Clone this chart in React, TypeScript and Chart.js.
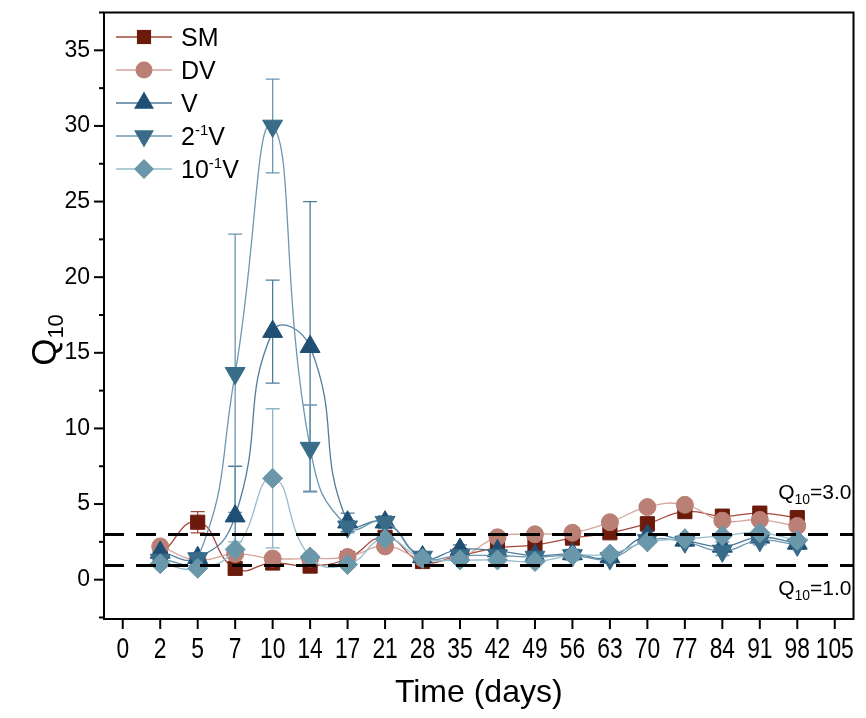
import React, { useEffect, useRef } from 'react';
import { Chart, registerables } from 'chart.js';

Chart.register(...registerables);

// ---------- data ----------
const dayLabels = ['0', '2', '5', '7', '10', '14', '17', '21', '28', '35', '42', '49', '56', '63', '70', '77', '84', '91', '98', '105'];

const smValues = [null, 1.6, 3.8, 0.75, 1.1, 0.9, 1.4, 2.8, 1.2, 1.6, 2.1, 2.3, 2.75, 3.1, 3.7, 4.5, 4.2, 4.4, 4.1, null];
const smErrors = [null, 0.2, 0.7, 0.1, 0.1, 0.1, 0.2, 0.3, 0.1, 0.2, 0.3, 0.3, 0.3, 0.3, 0.3, 0.3, 0.3, 0.3, 0.3, null];

const dvValues = [null, 2.2, 1.3, 1.7, 1.4, 1.4, 1.5, 2.2, 1.4, 1.5, 2.8, 3.0, 3.1, 3.8, 4.8, 4.95, 3.9, 3.95, 3.55, null];
const dvErrors = [null, 0.2, 0.2, 0.2, 0.2, 0.2, 0.2, 0.2, 0.2, 0.2, 0.3, 0.3, 0.3, 0.3, 0.3, 0.3, 0.3, 0.3, 0.3, null];

const vValues = [null, 1.8, 1.45, 4.2, 16.4, 15.4, 3.8, 3.8, 1.5, 2.0, 1.9, 1.6, 1.7, 1.5, 2.9, 2.6, 2.2, 2.8, 2.4, null];
const vErrors = [null, 0.3, 0.3, 3.3, 3.4, 9.6, 0.6, 0.4, 0.3, 0.3, 0.3, 0.3, 0.3, 0.3, 0.3, 0.3, 0.3, 0.3, 0.3, null];

const halfVValues = [null, 1.3, 1.4, 13.65, 30.0, 8.7, 3.5, 3.8, 1.5, 1.6, 1.6, 1.5, 1.6, 1.4, 2.6, 2.5, 1.9, 2.6, 2.3, null];
const halfVErrors = [null, 0.3, 0.3, 9.2, 3.1, 2.85, 0.4, 0.4, 0.3, 0.3, 0.3, 0.3, 0.3, 0.3, 0.3, 0.3, 0.3, 0.3, 0.3, null];

const tenthVValues = [null, 1.05, 0.75, 2.0, 6.7, 1.5, 1.0, 2.7, 1.4, 1.3, 1.3, 1.2, 1.6, 1.7, 2.5, 2.7, 2.9, 3.1, 2.6, null];
const tenthVErrors = [null, 0.2, 0.2, 0.5, 4.6, 0.2, 0.2, 0.2, 0.2, 0.2, 0.2, 0.2, 0.2, 0.2, 0.2, 0.2, 0.2, 0.2, 0.2, null];

const yMin = -2.6;
const yMax = 37.5;
const refLines = [3, 1];

// ---------- styles ----------
const FONT = '"Liberation Sans", Arial, Helvetica, sans-serif';

type Series = {
  key: string;
  parts: { t: string; sup?: boolean }[];
  values: (number | null)[];
  errors: (number | null)[];
  marker: string;
  line: string;
  err: string;
  shape: 'square' | 'circle' | 'up' | 'down' | 'diamond';
  order: number;
};

const series: Series[] = [
  { key: 'SM', parts: [{ t: 'SM' }], values: smValues, errors: smErrors, marker: '#6B1A0C', line: '#A5493C', err: '#A5493C', shape: 'square', order: 5 },
  { key: 'DV', parts: [{ t: 'DV' }], values: dvValues, errors: dvErrors, marker: '#BA7F75', line: '#D6A59D', err: '#C99088', shape: 'circle', order: 4 },
  { key: 'V', parts: [{ t: 'V' }], values: vValues, errors: vErrors, marker: '#1F4F74', line: '#4F7D9C', err: '#4F7D9C', shape: 'up', order: 3 },
  { key: '2-1V', parts: [{ t: '2' }, { t: '-1', sup: true }, { t: 'V' }], values: halfVValues, errors: halfVErrors, marker: '#386C88', line: '#6B97B0', err: '#6B97B0', shape: 'down', order: 2 },
  { key: '10-1V', parts: [{ t: '10' }, { t: '-1', sup: true }, { t: 'V' }], values: tenthVValues, errors: tenthVErrors, marker: '#6A98AA', line: '#98BCCB', err: '#8FB3C3', shape: 'diamond', order: 1 },
];

const shapeStyle: Record<string, { style: string; radius: number; rotation: number }> = {
  square: { style: 'rect', radius: 10, rotation: 0 },
  circle: { style: 'circle', radius: 8.5, rotation: 0 },
  up: { style: 'triangle', radius: 11.5, rotation: 0 },
  down: { style: 'triangle', radius: 11.5, rotation: 180 },
  diamond: { style: 'rectRot', radius: 10, rotation: 0 },
};

function drawMarker(ctx: CanvasRenderingContext2D, shape: string, x: number, y: number, color: string) {
  const s = shapeStyle[shape];
  const r = s.radius;
  ctx.save();
  ctx.fillStyle = color;
  ctx.beginPath();
  if (shape === 'square') {
    const h = r * Math.SQRT1_2;
    ctx.rect(x - h, y - h, 2 * h, 2 * h);
  } else if (shape === 'circle') {
    ctx.arc(x, y, r, 0, Math.PI * 2);
  } else if (shape === 'up') {
    ctx.moveTo(x, y - r);
    ctx.lineTo(x + r * Math.cos(Math.PI / 6), y + r / 2);
    ctx.lineTo(x - r * Math.cos(Math.PI / 6), y + r / 2);
  } else if (shape === 'down') {
    ctx.moveTo(x, y + r);
    ctx.lineTo(x + r * Math.cos(Math.PI / 6), y - r / 2);
    ctx.lineTo(x - r * Math.cos(Math.PI / 6), y - r / 2);
  } else {
    ctx.moveTo(x, y - r);
    ctx.lineTo(x + r, y);
    ctx.lineTo(x, y + r);
    ctx.lineTo(x - r, y);
  }
  ctx.closePath();
  ctx.fill();
  ctx.restore();
}

type Part = { t: string; size: number; dy: number };

function richWidth(ctx: CanvasRenderingContext2D, parts: Part[]) {
  let w = 0;
  for (const p of parts) {
    ctx.font = `${p.size}px ${FONT}`;
    w += ctx.measureText(p.t).width;
  }
  return w;
}

function drawRich(ctx: CanvasRenderingContext2D, parts: Part[], x: number, y: number, align: 'left' | 'center' | 'right') {
  const w = richWidth(ctx, parts);
  let cx = align === 'left' ? x : align === 'center' ? x - w / 2 : x - w;
  ctx.textAlign = 'left';
  ctx.textBaseline = 'alphabetic';
  for (const p of parts) {
    ctx.font = `${p.size}px ${FONT}`;
    ctx.fillText(p.t, cx, y + p.dy);
    cx += ctx.measureText(p.t).width;
  }
}

const decorPlugin = {
  id: 'decor',
  beforeDatasetsDraw(chart: any) {
    const ctx: CanvasRenderingContext2D = chart.ctx;
    const yScale = chart.scales.y;
    chart.data.datasets.forEach((ds: any, i: number) => {
      const s = series[i];
      const meta = chart.getDatasetMeta(i);
      ctx.save();
      ctx.strokeStyle = s.err;
      ctx.lineWidth = 1.3;
      s.values.forEach((v, j) => {
        const e = s.errors[j];
        if (v == null || e == null) return;
        const pt = meta.data[j];
        if (!pt) return;
        const x = pt.x;
        const yt = yScale.getPixelForValue(v + e);
        const yb = yScale.getPixelForValue(v - e);
        ctx.beginPath();
        ctx.moveTo(x, yt);
        ctx.lineTo(x, yb);
        ctx.moveTo(x - 7, yt);
        ctx.lineTo(x + 7, yt);
        ctx.moveTo(x - 7, yb);
        ctx.lineTo(x + 7, yb);
        ctx.stroke();
      });
      ctx.restore();
    });
  },
  afterDatasetsDraw(chart: any) {
    const ctx: CanvasRenderingContext2D = chart.ctx;
    const { left, right } = chart.chartArea;
    const yScale = chart.scales.y;
    ctx.save();
    ctx.strokeStyle = '#000';
    ctx.lineWidth = 3;
    ctx.setLineDash([20, 12]);
    for (const r of refLines) {
      const y = Math.round(yScale.getPixelForValue(r)) + 0.5;
      ctx.beginPath();
      ctx.moveTo(left, y);
      ctx.lineTo(right, y);
      ctx.stroke();
    }
    ctx.restore();
  },
  afterDraw(chart: any) {
    const ctx: CanvasRenderingContext2D = chart.ctx;
    const { left, right, top, bottom } = chart.chartArea;
    const xScale = chart.scales.x;
    const yScale = chart.scales.y;
    ctx.save();
    ctx.fillStyle = '#000';
    ctx.strokeStyle = '#000';

    // frame
    ctx.lineWidth = 2;
    ctx.strokeRect(left, top, right - left, bottom - top);

    // y ticks (major + minor)
    ctx.lineWidth = 2;
    for (let k = -1; k <= 15; k++) {
      const v = k * 2.5;
      const y = yScale.getPixelForValue(v);
      const len = k % 2 === 0 ? 10 : 5;
      ctx.beginPath();
      ctx.moveTo(left - len, y);
      ctx.lineTo(left, y);
      ctx.stroke();
    }

    // x ticks and labels
    const labels: string[] = chart.data.labels;
    labels.forEach((lab, i) => {
      const x = xScale.getPixelForTick(i);
      ctx.beginPath();
      ctx.moveTo(x, bottom);
      ctx.lineTo(x, bottom + 10);
      ctx.stroke();
      ctx.save();
      ctx.translate(x, bottom + 31);
      ctx.scale(0.76, 1);
      ctx.font = `30px ${FONT}`;
      ctx.textAlign = 'center';
      ctx.textBaseline = 'middle';
      ctx.fillText(lab, 0, 0);
      ctx.restore();
    });

    // x title
    ctx.font = `32px ${FONT}`;
    ctx.textAlign = 'center';
    ctx.textBaseline = 'middle';
    ctx.fillText('Time (days)', (left + right) / 2, 693);

    // y title Q10
    ctx.save();
    ctx.translate(56, 340);
    ctx.rotate(-Math.PI / 2);
    drawRich(ctx, [
      { t: 'Q', size: 35, dy: 0 },
      { t: '10', size: 22, dy: 7 },
    ], 0, 0, 'center');
    ctx.restore();

    // reference annotations
    const y3 = yScale.getPixelForValue(3);
    const y1 = yScale.getPixelForValue(1);
    drawRich(ctx, [
      { t: 'Q', size: 21, dy: 0 },
      { t: '10', size: 14, dy: 5 },
      { t: '=3.0', size: 21, dy: 0 },
    ], right - 2, y3 - 35, 'right');
    drawRich(ctx, [
      { t: 'Q', size: 21, dy: 0 },
      { t: '10', size: 14, dy: 5 },
      { t: '=1.0', size: 21, dy: 0 },
    ], right - 2, y1 + 30, 'right');

    // legend
    const rowY = [37, 70, 103, 136, 169];
    series.forEach((s, i) => {
      const y = rowY[i];
      ctx.save();
      ctx.strokeStyle = s.line;
      ctx.lineWidth = 1.5;
      ctx.beginPath();
      ctx.moveTo(116, y);
      ctx.lineTo(172, y);
      ctx.stroke();
      ctx.restore();
      drawMarker(ctx, s.shape, 144, y, s.marker);
      ctx.fillStyle = '#000';
      const parts: Part[] = s.parts.map((p) => (p.sup ? { t: p.t, size: 15, dy: -10 } : { t: p.t, size: 25, dy: 0 }));
      drawRich(ctx, parts, 181, y + 9, 'left');
    });

    ctx.restore();
  },
};

export default function App() {
  const canvasRef = useRef<HTMLCanvasElement | null>(null);

  useEffect(() => {
    const canvas = canvasRef.current;
    if (!canvas) return;
    const datasets = series.map((s) => {
      const st = shapeStyle[s.shape];
      return {
        label: s.key,
        data: s.values,
        borderColor: s.line,
        backgroundColor: s.marker,
        borderWidth: 1.3,
        pointStyle: st.style,
        pointRadius: st.radius,
        pointRotation: st.rotation,
        pointBackgroundColor: s.marker,
        pointBorderColor: s.marker,
        pointBorderWidth: 1,
        tension: 0.5,
        fill: false,
        order: s.order,
      };
    });
    const chart = new Chart(canvas, {
      type: 'line',
      data: { labels: dayLabels, datasets: datasets as any },
      options: {
        responsive: false,
        animation: false,
        layout: { padding: { top: 10, right: 6, left: 0, bottom: 0 } },
        plugins: { legend: { display: false }, tooltip: { enabled: false } },
        scales: {
          x: {
            type: 'category',
            offset: true,
            ticks: { display: false },
            grid: { display: false },
            border: { display: false },
            afterFit: (s: any) => { s.height = 99; s.paddingLeft = 0; s.paddingRight = 0; },
          },
          y: {
            min: yMin,
            max: yMax,
            ticks: {
              stepSize: 2.5,
              autoSkip: false,
              padding: 6,
              color: '#000',
              font: { family: FONT, size: 23 },
              callback: (v: any) => (Math.abs(Number(v) % 5) < 1e-6 ? String(v) : ''),
            },
            grid: { display: false },
            border: { display: false },
            afterFit: (s: any) => { s.width = 104; s.paddingTop = 0; s.paddingBottom = 0; },
          },
        },
      },
      plugins: [decorPlugin],
    });
    return () => chart.destroy();
  }, []);

  return (
    <div style={{ position: 'fixed', left: 0, top: 0, width: 866, height: 718, background: '#fff' }}>
      <canvas ref={canvasRef} width={866} height={718} style={{ display: 'block' }} />
    </div>
  );
}
